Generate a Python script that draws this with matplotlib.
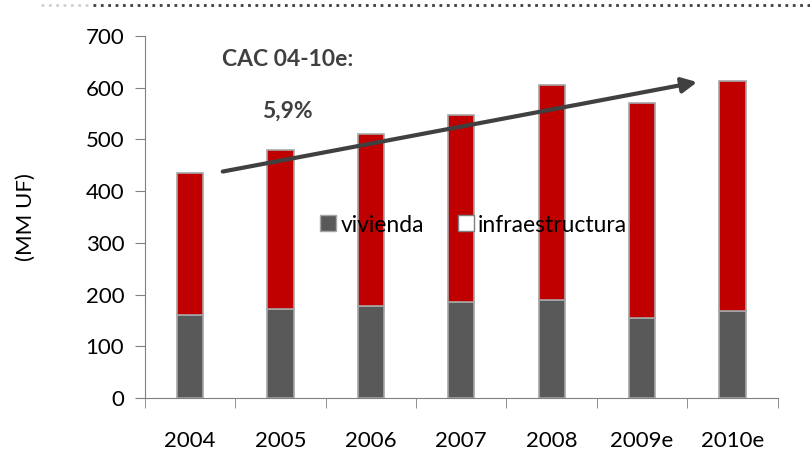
import numpy as np
import matplotlib.pyplot as plt
from matplotlib.lines import Line2D

plt.rcParams['font.family'] = ['Lato', 'DejaVu Sans']

years = ['2004', '2005', '2006', '2007', '2008', '2009e', '2010e']
vivienda = [160, 172, 178, 186, 190, 155, 168]
total = [435, 480, 511, 547, 605, 570, 613]
infraestructura = [t - v for t, v in zip(total, vivienda)]

gris = '#595959'
rojo = '#C00000'
borde = '#A6A6A6'

fig = plt.figure(figsize=(8.1, 4.51), dpi=100)
ax = fig.add_axes([0.179, 0.1175, 0.781, 0.8025])

x = np.arange(len(years))
ax.bar(x, vivienda, width=0.29, color=gris, edgecolor=borde, linewidth=1.2, label='vivienda')
ax.bar(x, infraestructura, width=0.29, bottom=vivienda, color=rojo, edgecolor=borde,
       linewidth=1.2, label='infraestructura')

ax.set_xlim(-0.5, len(years) - 0.5)
ax.set_ylim(0, 700)
ax.set_yticks(range(0, 701, 100))
ax.set_xticks(x)
ax.set_xticklabels(years, fontsize=16)
ax.set_xticks(np.arange(-0.5, len(years)), minor=True)
ax.tick_params(axis='x', which='major', length=0, pad=24)
ax.tick_params(axis='x', which='minor', length=7, color='#808080', direction='out')
ax.tick_params(axis='y', labelsize=16, length=7, color='#808080', pad=8)
for s in ['top', 'right']:
    ax.spines[s].set_visible(False)
for s in ['left', 'bottom']:
    ax.spines[s].set_color('#808080')
ax.set_ylabel('(MM UF)', fontsize=16, labelpad=36)

# flecha de crecimiento
ax.annotate('', xy=(5.64, 612), xytext=(0.33, 437),
            arrowprops=dict(arrowstyle='-|>,head_length=0.9,head_width=0.45',
                            color='#404040', lw=3))
ax.text(1.08, 655, 'CAC 04-10e:', fontsize=16.5, fontweight='bold', color='#404040',
        ha='center', va='center')
ax.text(1.07, 555, '5,9%', fontsize=16.5, fontweight='bold', color='#404040',
        ha='center', va='center')

handles = [Line2D([], [], marker='s', ls='', markersize=12, markerfacecolor=gris,
                  markeredgecolor=borde),
           Line2D([], [], marker='s', ls='', markersize=12, markerfacecolor='white',
                  markeredgecolor='#808080')]
ax.legend(handles, ['vivienda', 'infraestructura'], loc='center', bbox_to_anchor=(0.517, 0.478),
          ncol=2, frameon=False, fontsize=16.5, handletextpad=0.05, columnspacing=1.3,
          handlelength=1.0)

# linea punteada superior
fig.add_artist(Line2D([0.05, 0.115], [0.988, 0.988], transform=fig.transFigure,
                      color='#D0D0D0', ls=':', lw=2))
fig.add_artist(Line2D([0.115, 1.0], [0.988, 0.988], transform=fig.transFigure,
                      color='#404040', ls=':', lw=2))

fig.savefig('out.png', dpi=100)
